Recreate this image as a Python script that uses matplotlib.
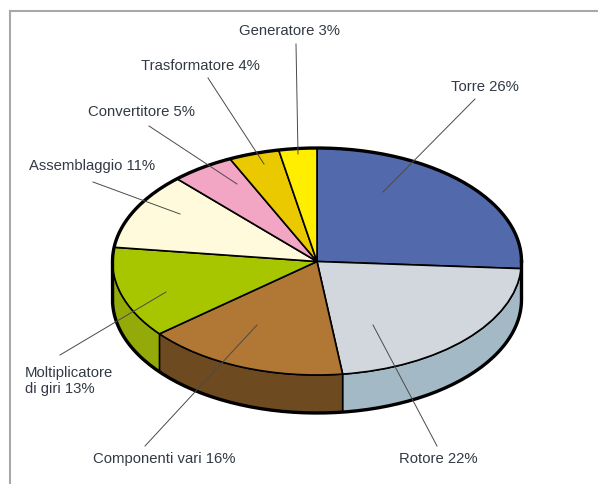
import numpy as np
import matplotlib
matplotlib.use('Agg')
import matplotlib.pyplot as plt

plt.rcParams['font.family'] = ['Liberation Sans', 'DejaVu Sans']

# Shares of each component (%), clockwise from the top
names = ['Torre', 'Rotore', 'Componenti vari', 'Moltiplicatore\ndi giri', 'Assemblaggio',
         'Convertitore', 'Trasformatore', 'Generatore']
shares = [26, 22, 16, 13, 11, 5, 4, 3]

top_colors = ['#5269ab', '#d1d7dc', '#b07735', '#a8c600', '#fffadc', '#f2a6c4', '#eac900', '#ffee00']
side_colors = ['#3c4e85', '#a3bac6', '#6e4a20', '#93aa08', '#d8d4b8', '#c98aa3', '#c4a900', '#d8c900']

# Label anchor (x, y, ha) and leader line (x0, y0, x1, y1), in picture pixels
label_pos = [(451, 87, 'left'), (399, 459, 'left'), (93, 459, 'left'), (25, 381, 'left'),
             (29, 166, 'left'), (88, 112, 'left'), (141, 66, 'left'), (239, 31, 'left')]
leaders = [(475, 99, 383, 192), (437, 446, 373, 325), (145, 446, 257, 325), (60, 355, 166, 292),
           (93, 182, 180, 214), (149, 126, 237, 184), (208, 78, 264, 164), (296, 44, 298, 154)]

W, H = 598, 484
CX, CY, A, B, DEPTH = 317.0, 261.5, 204.5, 113.5, 38.0
TEXT_COLOR = '#333a45'


def side_polygon(ax, start, end, color, depth):
    # start > end, math angles going clockwise; only the front half is visible
    lo = max(end, -180)
    hi = min(start, 0)
    if hi <= lo:
        return
    t = np.radians(np.linspace(hi, lo, 60))
    x = np.cos(t)
    y = np.sin(t)
    xs = np.concatenate([x, x[::-1]])
    ys = np.concatenate([y, y[::-1] - depth])
    ax.fill(xs, ys, facecolor=color, edgecolor='black', linewidth=1.1, joinstyle='round', zorder=1)


def main():
    fig = plt.figure(figsize=(W / 100, H / 100), dpi=100)

    # pie axes: one data unit = one semi-axis of the ellipse
    pie_ax = fig.add_axes([0, 0, 1, 1])
    depth = DEPTH / B
    ends = 90 - np.cumsum(shares) * 3.6
    starts = np.concatenate([[90], ends[:-1]])
    for s, e, c in zip(starts, ends, side_colors):
        side_polygon(pie_ax, s, e, c, depth)

    wedges, _ = pie_ax.pie(shares, colors=top_colors, startangle=90, counterclock=False,
                           wedgeprops={'edgecolor': 'black', 'linewidth': 1.2})
    for w in wedges:
        w.set_zorder(2)

    # thick outer contour
    t = np.radians(np.linspace(0, 180, 120))
    b = np.radians(np.linspace(180, 360, 120))
    out_x = np.concatenate([np.cos(t), np.cos(b)])
    out_y = np.concatenate([np.sin(t), np.sin(b) - depth])
    pie_ax.plot(np.append(out_x, out_x[0]), np.append(out_y, out_y[0]), color='black', lw=2.4, zorder=3)

    pie_ax.set_aspect('auto')
    pie_ax.set_xlim(-CX / A, (W - CX) / A)
    pie_ax.set_ylim((CY - H) / B, CY / B)
    pie_ax.axis('off')

    # overlay in pixels: frame, leaders and labels
    ax = fig.add_axes([10 / W, 0, (W - 10) / W, (H - 11) / H], zorder=5)
    ax.patch.set_visible(False)
    ax.set_xlim(10, W)
    ax.set_ylim(H, 11)
    ax.set_xticks([])
    ax.set_yticks([])
    for side in ['right', 'bottom']:
        ax.spines[side].set_visible(False)
    for side in ['left', 'top']:
        ax.spines[side].set_color('#a8a8a8')
        ax.spines[side].set_linewidth(1.5)

    for x0, y0, x1, y1 in leaders:
        ax.plot([x0, x1], [y0, y1], color='#4a4a4a', lw=0.7, clip_on=False)

    for name, share, (x, y, ha) in zip(names, shares, label_pos):
        ax.text(x, y, f'{name} {share}%', ha=ha, va='center', fontsize=10.75,
                color=TEXT_COLOR, linespacing=1.15)

    fig.savefig('out.png', dpi=100)


if __name__ == '__main__':
    main()
